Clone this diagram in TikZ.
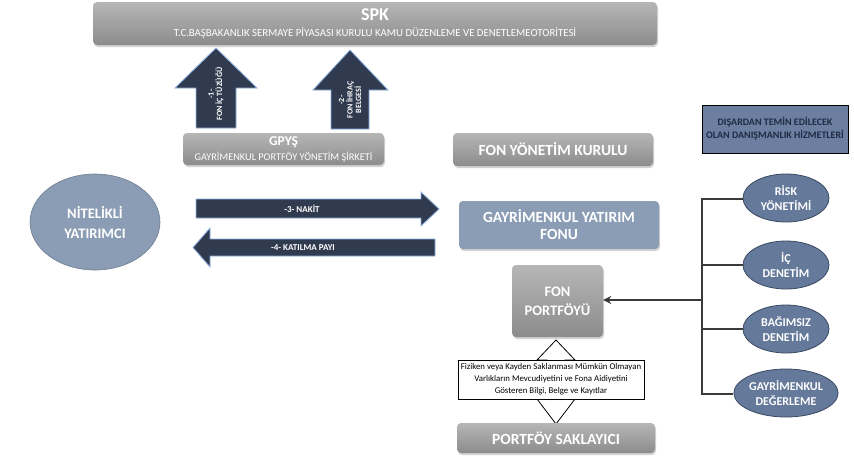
\documentclass[tikz,border=0pt]{standalone}
\usepackage{fontspec}
\setmainfont{Carlito}
\usetikzlibrary{shadows,shapes.geometric,arrows.meta}
\definecolor{navy}{HTML}{313B4F}
\definecolor{lblue}{HTML}{8DB3E2}
\definecolor{gtop}{HTML}{B6B6B6}
\definecolor{gbot}{HTML}{8C8C8C}
\definecolor{fundblue}{HTML}{8B9CB5}
\definecolor{elblue}{HTML}{65799A}
\definecolor{eldark}{HTML}{3B4A63}
\definecolor{advblue}{HTML}{6C7FA1}
\definecolor{advtext}{HTML}{1F2A44}
\definecolor{linegray}{HTML}{3A3A3A}
\tikzset{
  graybox/.style={rounded corners=4pt, top color=gtop, bottom color=gbot, draw=none,
    text=white, font=\bfseries, align=center, inner sep=0pt,
    drop shadow={shadow xshift=1pt, shadow yshift=-2pt, opacity=0.35}},
  fatarrow/.style={fill=navy, draw=lblue, line width=0.8pt},
  arrowtext/.style={text=white, font=\bfseries\fontsize{8}{8.5}\selectfont, align=center, inner sep=0pt},
  harrowtext/.style={text=white, font=\bfseries\fontsize{9}{10}\selectfont, inner sep=0pt},
  riskell/.style={ellipse, fill=elblue, draw=eldark, line width=0.8pt, text=white,
    font=\bfseries\fontsize{12}{15}\selectfont, align=center, minimum width=86pt, minimum height=48pt, inner sep=0pt},
  branch/.style={draw=linegray, line width=2.6pt},
}
\begin{document}
\begin{tikzpicture}[x=1pt, y=-1pt]
\useasboundingbox (0,0) rectangle (854,456);
\fill[white] (0,0) rectangle (854,456);

% SPK
\node[graybox, minimum width=564pt, minimum height=43pt] (spk) at (375,23.5) {};
\node[text=white, font=\bfseries\fontsize{18}{19}\selectfont, inner sep=0pt] (spkt) at (375,14.5) {SPK};
\node[text=white, font=\fontsize{10.8}{12}\selectfont, inner sep=0pt] (spks) at (375,32.5) {T.C.BAŞBAKANLIK SERMAYE PİYASASI KURULU KAMU DÜZENLEME VE DENETLEMEOTORİTESİ};

% up arrows
\draw[fatarrow] (196,128) -- (196,88) -- (175,88) -- (216,48) -- (257,88) -- (236,88) -- (236,128) -- cycle;
\node[arrowtext, rotate=90] (a1) at (216,94) {-1-\\FON İÇ TÜZÜĞÜ};
\draw[fatarrow] (331,129) -- (331,90) -- (313,90) -- (350,50) -- (388,90) -- (369,90) -- (369,129) -- cycle;
\node[arrowtext, rotate=90] (a2) at (350,100) {-2-\\FON İHRAÇ\\BELGESİ};

% GPYS
\node[graybox, minimum width=201pt, minimum height=32pt] (gpys) at (283.5,149) {};
\node[text=white, font=\bfseries\fontsize{13.5}{14}\selectfont, inner sep=0pt] (gpyst) at (283.5,142.5) {GPYŞ};
\node[text=white, font=\fontsize{10.3}{11}\selectfont, inner sep=0pt] (gpyss) at (283.5,157) {GAYRİMENKUL PORTFÖY YÖNETİM ŞİRKETİ};

% Fon yonetim kurulu
\node[graybox, minimum width=200pt, minimum height=33pt, font=\bfseries\fontsize{15.5}{17}\selectfont] (fyk) at (553,149.5) {FON YÖNETİM KURULU};

% GYF
\node[rounded corners=4pt, fill=fundblue, text=white, font=\bfseries\fontsize{15.5}{17}\selectfont,
  align=center, minimum width=200pt, minimum height=48pt, inner sep=0pt,
  drop shadow={shadow xshift=1pt, shadow yshift=-2pt, opacity=0.35}] (gyf) at (559,225) {GAYRİMENKUL YATIRIM\\FONU};

% Nitelikli yatirimci
\node[ellipse, fill=fundblue, draw=fundblue!80!black, line width=0.6pt, text=white,
  font=\bfseries\fontsize{14.5}{20}\selectfont, align=center, minimum width=130pt, minimum height=96pt, inner sep=0pt]
  (ny) at (95,222) {NİTELİKLİ\\YATIRIMCI};

% cash / share arrows
\draw[fatarrow] (196,199) -- (421,199) -- (421,192) -- (439,209) -- (421,226) -- (421,218) -- (196,218) -- cycle;
\node[harrowtext] (nakit) at (302,208.5) {-3- NAKİT};
\draw[fatarrow] (435,239) -- (210,239) -- (210,228) -- (193,247.5) -- (210,267) -- (210,256) -- (435,256) -- cycle;
\node[harrowtext] (pay) at (303,248) {-4- KATILMA PAYI};

% Fon portfoyu
\node[graybox, minimum width=91pt, minimum height=72pt, font=\bfseries\fontsize{14.5}{19}\selectfont] (fp) at (557.5,301) {FON\\PORTFÖYÜ};

% double arrow behind text box
\draw[fill=white, draw=black, line width=0.8pt] (547,370) -- (547,360) -- (537,360) -- (556,340) -- (575,360) -- (565,360) -- (565,370)
  -- (565,399) -- (575,399) -- (556,424) -- (537,399) -- (547,399) -- cycle;
\node[draw=black, fill=white, line width=0.6pt, minimum width=186pt, minimum height=39pt, inner sep=0pt,
  align=center, font=\fontsize{8.8}{12}\selectfont] (doc) at (551,379.5)
  {Fiziken veya Kayden Saklanması Mümkün Olmayan\\Varlıkların Mevcudiyetini ve Fona Aidiyetini\\Gösteren Bilgi, Belge ve Kayıtlar};

% Portfoy saklayici
\node[graybox, minimum width=198pt, minimum height=30pt, font=\bfseries\fontsize{15.5}{17}\selectfont] (ps) at (556,438) {PORTFÖY SAKLAYICI};

% advisory
\node[fill=advblue, draw=black, line width=0.8pt, minimum width=146pt, minimum height=48pt, inner sep=0pt,
  align=center, text=advtext, font=\bfseries\fontsize{10}{13}\selectfont] (adv) at (775,129)
  {DIŞARDAN TEMİN EDİLECEK\\OLAN DANIŞMANLIK HİZMETLERİ};

\node[riskell] (risk) at (786,198) {RİSK\\YÖNETİMİ};
\node[riskell] (ic) at (786,265) {İÇ\\DENETİM};
\node[riskell] (bag) at (786,329) {BAĞIMSIZ\\DENETİM};
\node[riskell] (deg) at (786,393) {GAYRİMENKUL\\DEĞERLEME};

\coordinate (vt) at (702,199);
\coordinate (vb) at (702,394);
\coordinate (vm) at (702,300);
\draw[branch, line cap=rect] (vt) -- (vb);
\draw[branch] (vt) -- (risk.west |- vt);
\draw[branch] (702,265) -- (ic.west);
\draw[branch] (702,329) -- (bag.west);
\draw[branch] (702,394) -- (deg.west |- vb);
\draw[draw=linegray, line width=1.8pt, -{Stealth[length=8pt, width=8pt]}] (vm) -- (fp.east |- vm);
\end{tikzpicture}
\end{document}
